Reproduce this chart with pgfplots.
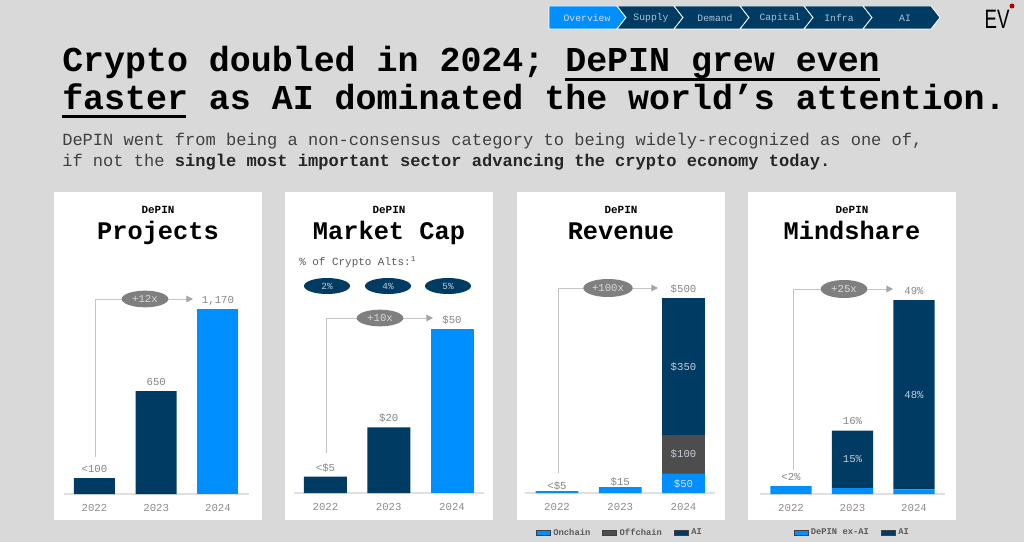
\documentclass[border=0pt]{standalone}
\usepackage{pgfplots}
\pgfplotsset{compat=1.18}
\usepackage{fontspec}
\setmainfont{Liberation Mono}
\newfontfamily\sansfont{Liberation Sans}
\usetikzlibrary{shapes.geometric,arrows.meta}
\definecolor{bg}{HTML}{D9D9D9}
\definecolor{navy}{HTML}{003B64}
\definecolor{bblue}{HTML}{008FFF}
\definecolor{offc}{HTML}{4D4D4D}
\definecolor{ell}{HTML}{7F7F7F}
\definecolor{lab}{HTML}{858585}
\definecolor{tickc}{HTML}{8C8C8C}
\definecolor{arr}{HTML}{C4C4C4}
\definecolor{arrh}{HTML}{A6A6A6}
\definecolor{inner}{HTML}{C5CCD6}
\definecolor{navtxt}{HTML}{A9C2DC}
\definecolor{subc}{HTML}{404040}
\definecolor{legc}{HTML}{595959}
\definecolor{base}{HTML}{E0E0E0}
\newcommand{\fs}[1]{\fontsize{#1}{#1}\selectfont}
\tikzset{
  lbl/.style={anchor=base, yshift=4.5pt, font=\fs{8}, text=lab, inner sep=0pt},
  inl/.style={anchor=center, font=\fs{8}, text=inner, inner sep=0pt},
}
\pgfplotsset{
  panel/.style={
    anchor=south west, clip=false,
    axis x line*=bottom, hide y axis,
    x axis line style={draw=base, line width=1.5pt},
    xmin=-0.5, xmax=2.5, ymin=0,
    xtick={0,1,2}, xticklabels={2022,2023,2024},
    major tick length=0pt,
    xticklabel style={font=\fs{8}, text=tickc, yshift=-4.5pt},
    enlargelimits=false,
    ybar stacked,
  },
  leg/.style={legend style={anchor=center, legend columns=-1, draw=none, fill=none,
      font=\bfseries\fs{6.6}, text=legc,
      /tikz/every even column/.append style={column sep=7pt}},
    legend image code/.code={\draw[##1,draw=black!75,line width=0.5pt] (0pt,-1.9pt) rectangle (10.5pt,1.9pt);}},
}
\begin{document}
\begin{tikzpicture}
\begin{scope}[x=0.75pt,y=-0.75pt]
\fill[bg] (0,0) rectangle (1024,542);
% nav bar
\tikzset{seg/.style={draw=white, line width=0.6pt}}
\fill[bblue,seg] (549,6) -- (617,6) -- (626,17.5) -- (617,29) -- (549,29) -- cycle;
\fill[navy,seg] (617,6) -- (674,6) -- (683,17.5) -- (674,29) -- (617,29) -- (626,17.5) -- cycle;
\fill[navy,seg] (674,6) -- (740,6) -- (749,17.5) -- (740,29) -- (674,29) -- (683,17.5) -- cycle;
\fill[navy,seg] (740,6) -- (804,6) -- (813,17.5) -- (804,29) -- (740,29) -- (749,17.5) -- cycle;
\fill[navy,seg] (804,6) -- (863,6) -- (872,17.5) -- (863,29) -- (804,29) -- (813,17.5) -- cycle;
\fill[navy,seg] (863,6) -- (931,6) -- (940,17.5) -- (931,29) -- (863,29) -- (872,17.5) -- cycle;
\node[font=\fs{7.3}, text=blue!15] at (587,18) {Overview};
\node[font=\fs{7.3}, text=navtxt] at (651,18) {Supply};
\node[font=\fs{7.3}, text=navtxt] at (715,18) {Demand};
\node[font=\fs{7.3}, text=navtxt] at (780,18) {Capital};
\node[font=\fs{7.3}, text=navtxt] at (839,18) {Infra};
\node[font=\fs{7.3}, text=navtxt] at (905,18) {AI};
\node[font=\sansfont\fs{20}, xscale=0.7, inner sep=0pt] at (997,19) {EV};
\fill[red!70!black] (1012,6) circle (2.5);
% title
\node[anchor=base west, inner sep=0pt, font=\bfseries\fs{26.2}] at (62,72) {Crypto doubled in 2024; DePIN grew even};
\fill (565,78) rectangle (880,81);
\node[anchor=base west, inner sep=0pt, font=\bfseries\fs{26.2}] at (62,109) {faster as AI dominated the world’s attention.};
\fill (62,115) rectangle (186,118);
\node[anchor=base west, inner sep=0pt, font=\fs{12.8}, text=subc] at (62,145) {DePIN went from being a non-consensus category to being widely-recognized as one of,};
\node[anchor=base west, inner sep=0pt, font=\fs{12.8}, text=subc] at (62,166) {if not the \textbf{\color{black!85}single most important sector advancing the crypto economy today.}};
% panels
\fill[white] (54,192) rectangle (262,520);
\fill[white] (285,192) rectangle (493,520);
\fill[white] (517,192) rectangle (725,520);
\fill[white] (748,192) rectangle (956,520);
\foreach \c/\t in {158/Projects,389/Market Cap,621/Revenue,852/Mindshare}{
  \node[anchor=base, inner sep=0pt, font=\bfseries\fs{8.2}] at (\c,213) {DePIN};
  \node[anchor=base, inner sep=0pt, font=\bfseries\fs{19}] at (\c,239) {\t};
}
\node[anchor=west, font=\fs{8.2}, text=legc, inner sep=0pt] at (299,262) {\% of Crypto Alts:\textsuperscript{1}};
\foreach \x/\p in {327/2,388/4,448/5}{
  \node[ellipse, fill=navy, minimum width=34.5pt, minimum height=12pt, inner sep=0pt, font=\fs{7}, text=inner] at (\x,286) {\p\%};
}
% arrows
\tikzset{garr/.style={draw=arr, line width=0.75pt, -{Triangle[length=5pt,width=5pt,color=arrh]}},
  gell/.style={ellipse, fill=ell, minimum width=35pt, minimum height=12.5pt, inner sep=0pt, font=\fs{8}, text=white!85!black}}
\draw[garr] (95,457) |- (193,299);
\node[gell] at (145,299) {+12x};
\draw[garr] (326,453) |- (433,318);
\node[gell] at (380,318) {+10x};
\draw[garr] (558,473) |- (658,288);
\node[gell, minimum width=37pt, minimum height=13.5pt] at (608,288) {+100x};
\draw[garr] (793,470) |- (893,289);
\node[gell, minimum height=13.5pt] at (844,289) {+25x};
\end{scope}

% Panel 1: Projects
\begin{axis}[panel, at={(47.7pt,-370.5pt)}, x=46.3125pt, y=0.11859pt, ymax=1300, bar width=30.75pt]
\addplot[fill=navy, draw=none] coordinates {(0,100) (1,650) (2,0)};
\addplot[fill=bblue, draw=none] coordinates {(0,0) (1,0) (2,1170)};
\node[lbl] at (axis cs:0,100) {<100};
\node[lbl] at (axis cs:1,650) {650};
\node[lbl] at (axis cs:2,1170) {1,170};
\end{axis}

% Panel 2: Market Cap
\begin{axis}[panel, at={(220.4pt,-369.75pt)}, x=47.44pt, y=2.46pt, ymax=60, bar width=32.25pt]
\addplot[fill=navy, draw=none] coordinates {(0,5) (1,20) (2,0)};
\addplot[fill=bblue, draw=none] coordinates {(0,0) (1,0) (2,50)};
\node[lbl, yshift=-0.5pt] at (axis cs:0,5) {<\$5};
\node[lbl] at (axis cs:1,20) {\$20};
\node[lbl] at (axis cs:2,50) {\$50};
\end{axis}

% Panel 3: Revenue
\begin{axis}[panel, leg, at={(394.05pt,-369.75pt)}, x=47.44pt, y=0.2925pt, ymax=550, bar width=32pt,
  legend style={at={(0.5,-0.186)}}]
\addplot[fill=bblue, draw=none] coordinates {(0,5) (1,15) (2,50)};
\addplot[fill=offc, draw=none] coordinates {(0,0) (1,0) (2,100)};
\addplot[fill=navy, draw=none] coordinates {(0,0) (1,0) (2,350)};
\legend{Onchain,Offchain,AI}
\node[lbl, yshift=-3pt] at (axis cs:0,5) {<\$5};
\node[lbl, yshift=-3pt] at (axis cs:1,15) {\$15};
\node[lbl] at (axis cs:2,500) {\$500};
\end{axis}

% Panel 4: Mindshare
\begin{axis}[panel, leg, at={(570.2pt,-370.5pt)}, x=46.125pt, y=2.969pt, ymax=55, bar width=31pt,
  legend style={at={(0.5,-0.179)}}]
\addplot[fill=bblue, draw=none] coordinates {(0,2) (1,1.5) (2,1.2)};
\addplot[fill=navy, draw=none] coordinates {(0,0) (1,14.5) (2,47.8)};
\legend{DePIN ex-AI,AI}
\node[lbl] at (axis cs:0,2) {<2\%};
\node[lbl] at (axis cs:1,16) {16\%};
\node[lbl] at (axis cs:2,49) {49\%};
\end{axis}

\begin{scope}[x=0.75pt,y=-0.75pt]
% labels inside the stacked segments
\node[inl] at (683.5,367) {\$350};
\node[inl] at (683.5,454) {\$100};
\node[inl, text=blue!12] at (683.5,484) {\$50};
\node[inl] at (852.5,459) {15\%};
\node[inl] at (914,395) {48\%};
\pgfresetboundingbox
\useasboundingbox (0,0) rectangle (1024,542);
\end{scope}
\end{tikzpicture}
\end{document}
